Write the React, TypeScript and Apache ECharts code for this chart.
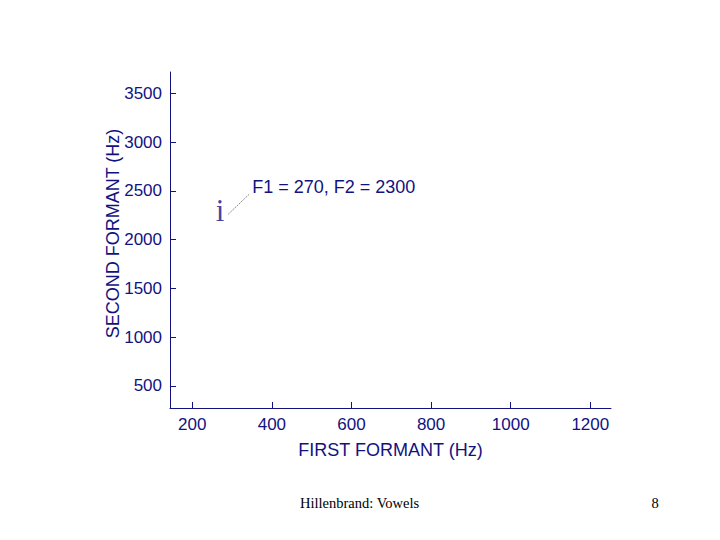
import React, { useEffect, useRef } from "react";
import * as echarts from "echarts";

const VOWEL_LABELS = ["i"];
const F1_VALUES = [270];
const F2_VALUES = [2300];
const F1_TICKS = [200, 400, 600, 800, 1000, 1200];
const F2_TICKS = [500, 1000, 1500, 2000, 2500, 3000, 3500];
const F1_RANGE = [144, 1252];
const F2_RANGE = [273, 3718];
const X_NAME = "FIRST FORMANT (Hz)";
const Y_NAME = "SECOND FORMANT (Hz)";
const ANNOTATION = `F1 = ${F1_VALUES[0]}, F2 = ${F2_VALUES[0]}`;
const FOOTER_LEFT = "Hillenbrand: Vowels";
const FOOTER_PAGE = "8";

const BLUE = "#12127f";
const SANS = '"Liberation Sans", Arial, sans-serif';
const SERIF = '"Liberation Serif", "Times New Roman", serif';

export default function App() {
  const ref = useRef<HTMLDivElement>(null);
  useEffect(() => {
    const chart = echarts.init(ref.current!, null, { renderer: "svg" });
    const axisBase = {
      type: "value",
      nameLocation: "middle",
      nameMoveOverlap: false,
      nameTextStyle: { color: BLUE, fontSize: 18, fontFamily: SANS },
      axisLine: { show: true, onZero: false, lineStyle: { color: BLUE, width: 1 } },
      axisTick: { show: true, inside: true, length: 6, lineStyle: { color: BLUE } },
      axisLabel: {
        color: BLUE,
        fontSize: 17,
        fontFamily: SANS,
        margin: 8,
        formatter: (v: number) => String(v),
      },
      splitLine: { show: false },
    };
    chart.setOption({
      animation: false,
      backgroundColor: "#ffffff",
      grid: { left: 170, top: 72, width: 441, height: 336 },
      xAxis: {
        ...axisBase,
        min: F1_RANGE[0],
        max: F1_RANGE[1],
        name: X_NAME,
        nameGap: 33,
        axisTick: { ...axisBase.axisTick, customValues: F1_TICKS },
        axisLabel: { ...axisBase.axisLabel, customValues: F1_TICKS },
      },
      yAxis: {
        ...axisBase,
        min: F2_RANGE[0],
        max: F2_RANGE[1],
        name: Y_NAME,
        nameGap: 48,
        nameTextStyle: { ...axisBase.nameTextStyle, padding: [0, 0, 0, 13] },
        axisTick: { ...axisBase.axisTick, customValues: F2_TICKS },
        axisLabel: { ...axisBase.axisLabel, customValues: F2_TICKS },
      },
      series: [
        {
          type: "scatter",
          symbolSize: 1,
          itemStyle: { color: "rgba(0,0,0,0)" },
          data: F1_VALUES.map((f1, i) => ({ value: [f1, F2_VALUES[i]], name: VOWEL_LABELS[i] })),
          label: {
            show: true,
            position: "inside",
            formatter: (p: any) => p.name,
            color: BLUE,
            fontSize: 31,
            fontFamily: SERIF,
          },
        },
      ],
    });
    const p = chart.convertToPixel({ gridIndex: 0 }, [F1_VALUES[0], F2_VALUES[0]]) as number[];
    chart.setOption({
      graphic: [
        {
          type: "line",
          shape: { x1: p[0] + 8, y1: p[1] + 4, x2: p[0] + 29, y2: p[1] - 16 },
          style: { stroke: "#8a8a8a", lineWidth: 1, lineDash: [2, 1] },
        },
        {
          type: "text",
          x: p[0] + 32,
          y: p[1] - 23,
          style: { text: ANNOTATION, fill: BLUE, font: `18px ${SANS}`, align: "left", verticalAlign: "middle" },
        },
        {
          type: "text",
          x: 300,
          y: 503,
          style: { text: FOOTER_LEFT, fill: "#000", font: `14.5px ${SERIF}`, align: "left", verticalAlign: "middle" },
        },
        {
          type: "text",
          x: 655,
          y: 503,
          style: { text: FOOTER_PAGE, fill: "#000", font: `14.5px ${SERIF}`, align: "center", verticalAlign: "middle" },
        },
      ],
    });
    return () => chart.dispose();
  }, []);
  return (
    <div
      ref={ref}
      style={{ position: "fixed", left: 0, top: 0, width: 720, height: 540, background: "#fff" }}
    />
  );
}
